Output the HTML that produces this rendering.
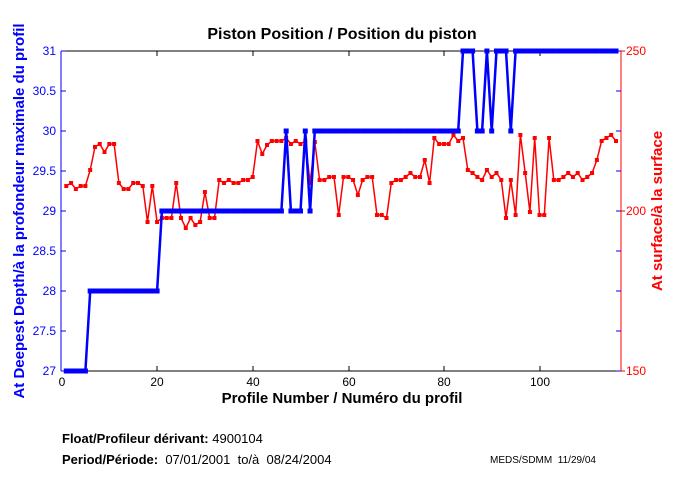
<!DOCTYPE html>
<html><head><meta charset="utf-8"><style>
body{margin:0;background:#fff;width:680px;height:500px;overflow:hidden}
svg{display:block;font-family:"Liberation Sans",sans-serif}
</style></head><body>
<svg id="s" width="680" height="500" xmlns="http://www.w3.org/2000/svg">
<rect width="680" height="500" fill="#fff"/>
<text x="342" y="39" text-anchor="middle" font-size="16" font-weight="bold">Piston Position / Position du piston</text>
<!-- axes -->
<line x1="61" y1="51" x2="621" y2="51" stroke="#000"/>
<line x1="61" y1="371" x2="621" y2="371" stroke="#000"/>
<line x1="61" y1="51" x2="61" y2="371" stroke="#00f"/>
<line x1="621" y1="51" x2="621" y2="371" stroke="#f00"/>
<g id="ticks"></g>
<g font-size="12" fill="#00f" text-anchor="end">
<text x="56" y="55">31</text><text x="56" y="95">30.5</text><text x="56" y="135">30</text><text x="56" y="175">29.5</text><text x="56" y="215">29</text><text x="56" y="255">28.5</text><text x="56" y="295">28</text><text x="56" y="335">27.5</text><text x="56" y="375">27</text>
</g>
<g font-size="12" fill="#f00">
<text x="626" y="55">250</text><text x="626" y="215">200</text><text x="626" y="375">150</text>
</g>
<g font-size="12" text-anchor="middle">
<text x="62" y="386">0</text><text x="157" y="386">20</text><text x="253" y="386">40</text><text x="349" y="386">60</text><text x="444" y="386">80</text><text x="540" y="386">100</text>
</g>
<text x="342" y="403" text-anchor="middle" font-size="15" font-weight="bold">Profile Number / Numéro du profil</text>
<text transform="translate(24,211) rotate(-90)" text-anchor="middle" font-size="15" font-weight="bold" fill="#00f">At Deepest Depth/à la profondeur maximale du profil</text>
<text transform="translate(662,211) rotate(-90)" text-anchor="middle" font-size="15" font-weight="bold" fill="#f00">At surface/à la surface</text>
<g id="data"></g>
<text x="62" y="443" font-size="13" font-weight="bold">Float/Profileur dérivant:  <tspan font-weight="normal">4900104</tspan></text>
<text x="62" y="464" font-size="13" font-weight="bold" xml:space="preserve">Period/Période:  <tspan font-weight="normal">07/01/2001  to/à  08/24/2004</tspan></text>
<text x="490" y="463" font-size="10" xml:space="preserve">MEDS/SDMM  11/29/04</text>
</svg>
<script>
var NS="http://www.w3.org/2000/svg";
function el(p,t,a){var e=document.createElementNS(NS,t);for(var k in a)e.setAttribute(k,a[k]);p.appendChild(e);return e;}
var T=document.getElementById("ticks");
[157,253,349,444,540].forEach(function(x){el(T,"line",{x1:x,y1:371,x2:x,y2:366,stroke:"#000"});el(T,"line",{x1:x,y1:51,x2:x,y2:56,stroke:"#000"});});
for(var y=51;y<=371;y+=40){el(T,"line",{x1:61,y1:y,x2:66,y2:y,stroke:"#00f"});el(T,"line",{x1:621,y1:y,x2:616,y2:y,stroke:"#00f"});}
[51,211,371].forEach(function(y){el(T,"line",{x1:621,y1:y,x2:625,y2:y,stroke:"#f00"});});
function X(i){return 61.5+4.78*i;}
var b=[];
for(var i=1;i<=116;i++){var v;
if(i<=5)v=27;else if(i<=20)v=28;else if(i<=46)v=29;else if(i==47)v=30;else if(i<=50)v=29;else if(i==51)v=30;else if(i==52)v=29;else if(i<=83)v=30;
else if(i<=86)v=31;else if(i<=88)v=30;else if(i==89)v=31;else if(i==90)v=30;else if(i<=93)v=31;else if(i==94)v=30;else v=31;
b.push(v);}
var r=[186,183,189,186,186,170,147,144,152,144,144,183,189,189,183,183,186,222,186,222,218,218,218,183,218,228,218,225,222,192,218,218,180,183,180,183,183,180,180,177,141,154,145,141,141,141,138,144,141,144,141,183,142,180,180,177,177,215,177,177,180,195,180,177,177,215,215,218,183,180,180,177,173,177,177,160,183,138,144,144,144,135,141,138,170,173,177,180,170,177,173,180,218,180,215,135,173,212,138,215,215,138,180,180,177,173,177,173,180,177,173,160,141,138,135,141];
var D=document.getElementById("data");
var pb=b.map(function(v,k){return X(k+1).toFixed(1)+","+(371-(v-27)*80);}).join(" ");
var pr=r.map(function(v,k){return X(k+1).toFixed(1)+","+v;}).join(" ");
el(D,"polyline",{points:pr,fill:"none",stroke:"#f00","stroke-width":1.5});
r.forEach(function(v,k){el(D,"rect",{x:X(k+1)-2,y:v-2,width:4,height:4,fill:"#f00"});});
el(D,"polyline",{points:pb,fill:"none",stroke:"#00f","stroke-width":2.5});
b.forEach(function(v,k){el(D,"rect",{x:X(k+1)-2.5,y:371-(v-27)*80-2.5,width:5,height:5,fill:"#00f"});});
</script>
</body></html>
